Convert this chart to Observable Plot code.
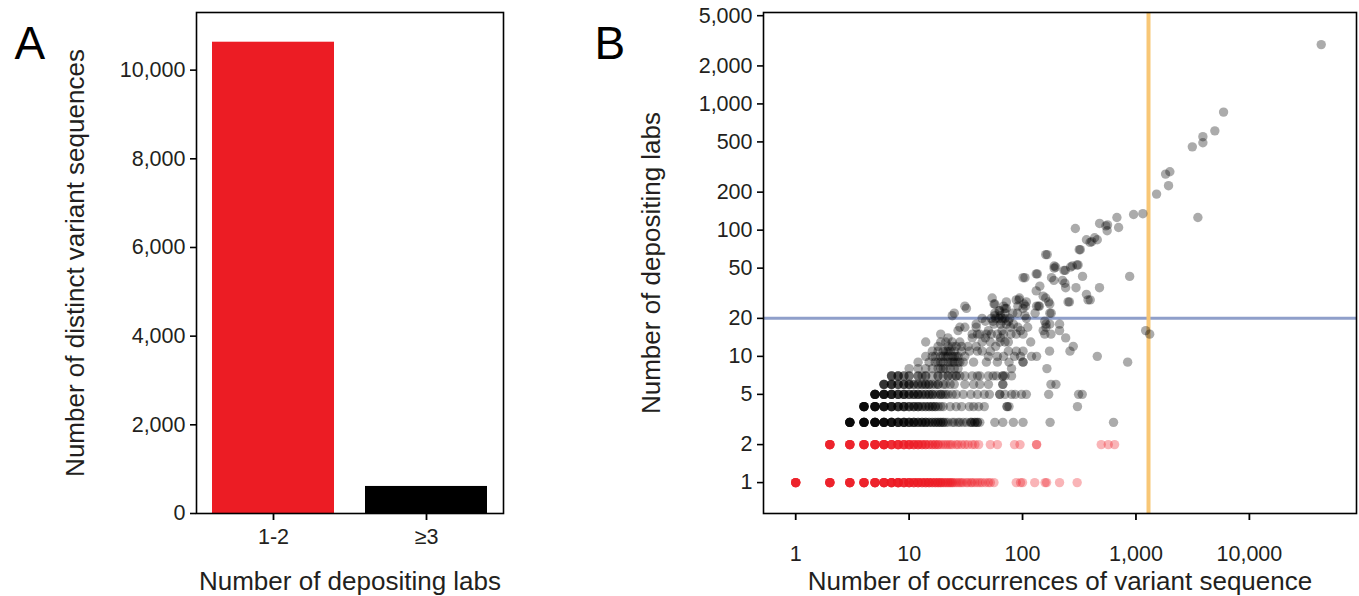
<!DOCTYPE html>
<html><head><meta charset="utf-8">
<script src="https://cdn.jsdelivr.net/npm/d3@7"></script>
<script src="https://cdn.jsdelivr.net/npm/@observablehq/plot@0.6"></script>
<style>
body{margin:0;background:#fff;}
#wrap{position:relative;width:1359px;height:596px;overflow:hidden;background:#fff;}
#a{position:absolute;left:0;top:0;}
#b{position:absolute;left:560px;top:0;}
</style></head><body>
<div id="wrap"><div id="a"></div><div id="b"></div></div>
<script>
// ---------- Panel A data ----------
const barCategories = ["1-2", "≥3"];
const barValues = [10630, 610];
const barColors = ["#ec1c24", "#000000"];
const yTicksA = [0, 2000, 4000, 6000, 8000, 10000];

// ---------- Panel B data ----------
const xTicksB = [1, 10, 100, 1000, 10000];
const yTicksB = [1, 2, 5, 10, 20, 50, 100, 200, 500, 1000, 2000, 5000];
const labThreshold = 20;
const occurrenceThreshold = 1290;

// rows at low lab counts: [occurrences, number of overlapping sequences]
const row1 = [[1,8],[2,8],[3,8],[4,8],[5,8],[6,8],[7,8],[8,8],[9,6],[10,6],[11,5],[12,5],[13,4],[14,4],[15,4],[16,3],[17,3],[18,3],[19,3],[20,2],[21,2],[22,2],[23,2],[24,2],[25,1],[26,1],[27,1],[28,1],[29,1],[30,1],[32,1],[33,1],[35,1],[36,1],[38,1],[40,1],[42,1],[44,1],[47,1],[50,1],[52,1],[56,1],[88,1],[96,1],[100,1],[128,1],[158,1],[163,1],[212,1],[303,1]];
const row2 = [[2,8],[3,8],[4,8],[5,8],[6,8],[7,6],[8,6],[9,5],[10,5],[11,4],[12,4],[13,3],[14,3],[15,2],[16,2],[17,2],[18,2],[19,1],[20,1],[21,1],[22,1],[23,1],[24,1],[26,1],[27,1],[29,1],[31,1],[33,1],[36,1],[38,1],[41,1],[52,1],[60,1],[85,1],[95,1],[133,2],[494,1],[570,1],[648,1]];
const row3 = [[3,8],[4,8],[5,8],[6,7],[7,6],[8,5],[9,5],[10,4],[11,4],[12,3],[13,3],[14,3],[15,2],[16,2],[17,2],[18,2],[19,2],[20,2],[21,1],[22,1],[24,1],[25,1],[27,1],[28,1],[30,1],[32,1],[35,2],[36,1],[38,2],[40,2],[42,1],[57,1],[67,1],[83,1],[101,1],[175,1],[634,1]];
const row4 = [[4,8],[5,7],[6,6],[7,5],[8,4],[9,4],[10,3],[11,3],[12,3],[13,2],[14,2],[15,2],[16,2],[17,2],[18,1],[19,1],[20,1],[23,1],[26,1],[29,1],[34,1],[37,1],[41,1],[46,1],[73,2],[76,1],[305,1]];
const row5 = [[5,7],[6,6],[7,5],[8,4],[9,4],[10,3],[11,3],[12,3],[13,2],[14,2],[15,2],[16,2],[17,1],[18,1],[19,2],[20,1],[21,1],[22,1],[24,1],[26,1],[30,1],[35,1],[40,1],[46,1],[51,1],[63,2],[70,1],[80,1],[86,1],[98,1],[108,1],[170,1],[312,1],[336,1]];
const row6 = [[6,4],[7,4],[8,3],[9,3],[10,3],[11,2],[12,2],[13,2],[14,2],[15,2],[16,1],[17,1],[18,2],[20,1],[21,1],[23,1],[25,1],[31,1],[37,1],[42,1],[50,1],[67,2],[178,1],[197,1]];
const row7 = [[7,3],[8,3],[9,2],[10,2],[12,2],[13,1],[14,2],[16,1],[18,2],[20,1],[22,2],[24,1],[26,2],[28,1],[31,1],[36,1],[40,1],[42,1],[50,1],[55,1],[59,1],[67,2],[70,1],[80,1]];
const lowRows = [[1,row1],[2,row2],[3,row3],[4,row4],[5,row5],[6,row6],[7,row7]];

// scattered sequences with 8+ labs: [occurrences, labs]
const scattered = [
 [10,8],[12,8],[14,8],[16,8],[18,8],[19,8],[20,8],[21,8],[23,8],[25,8],[27,8],[80,8],[164,8],
 [12,9],[15,9],[17,9],[18,9],[19,9],[20,9],[22,9],[23,9],[24,9],[25,9],[27,9],[28,9],[30,9],[37,9],[48,9],[60,9],[76,9],[101,9],[101,9],[845,9],
 [14,10],[16,10],[17,10],[19,10],[20,10],[21,10],[22,10],[24,10],[25,10],[26,10],[27,10],[31,10],[50,10],[60,10],[68,10],[85,10],[96,10],[120,10],[133,10],[456,10],
 [16,11],[18,11],[20,11],[21,11],[22,11],[23,11],[25,11],[29,11],[34,11],[40,11],[44,11],[52,11],[75,11],[88,11],[101,11],[173,11],[262,11],
 [18,12],[22,12],[24,12],[26,12],[29,12],[33,12],[39,12],[58,12],[280,12],
 [14,13],[19,13],[21,13],[24,13],[28,13],[44,13],[52,13],[63,13],[70,13],[75,13],[118,13],
 [22,14],[36,14],[47,14],[64,14],[240,14],
 [19,15],[36,15],[40,15],[42,15],[48,15],[53,15],[60,15],[68,15],[79,15],[88,15],[101,15],[157,15],[178,15],[1321,15],
 [27,16],[50,16],[66,16],[96,16],[152,16],[212,16],[1218,16],
 [28,17],[31,17],[39,17],[78,17],[91,17],[111,17],[161,17],
 [39,18],[56,18],[64,18],[72,18],[83,18],[161,18],[174,18],[212,18],
 [47,19],[55,19],[66,19],[75,19],[157,19],
 [44,20],[53,20],[58,20],[62,20],[66,20],[70,20],[77,20],[108,20],
 [24,21],[57,21],[64,21],[105,21],
 [25,22],[57,22],[70,22],[82,22],[90,22],[129,22],[174,22],[179,22],
 [62,23],[63,23],
 [32,24],[70,24],[72,24],[101,24],
 [31,25],[68,25],[91,25],[106,25],[133,25],[138,25],[141,25],
 [56,26],[57,26],[103,26],[174,26],
 [72,27],[108,27],[170,27],[252,27],[259,27],
 [88,28],[93,28],[378,28],[395,28],
 [54,29],[94,29],[160,29],
 [152,30],[366,31],[132,33],
 [240,35],[296,35],[477,35],[142,36],[236,38],
 [189,40],[225,40],[101,42],[105,42],[180,42],[338,43],[880,43],
 [132,45],[135,45],[232,48],[238,48],[190,50],[196,51],[265,51],[190,52],[275,52],[302,53],[309,53],
 [160,64],[165,64],[316,70],[323,70],
 [394,80],[408,81],[366,84],[456,84],[432,87],
 [557,99],[292,103],[703,105],[543,108],[562,110],[478,113],
 [679,126],[3515,126],[953,133],[1150,135],[1520,193],[1937,225],[1824,278],[1990,290],
 [3140,457],[3890,492],[3890,550],[4960,612],[5920,861],[43000,2950]
];

const FONT = "'Liberation Sans', Arial, Helvetica, sans-serif";
const INK = "#231f20";
const RED = "#ec1c24";
const TICKFONT = 21.5;
const fmt = d3.format(",");

// ---------- Panel A ----------
const barData = barCategories.map((c, i) => ({cat: c, value: barValues[i]}));
const plotA = Plot.plot({
  width: 560, height: 596,
  marginLeft: 196, marginRight: 57, marginTop: 12, marginBottom: 83,
  style: {fontFamily: FONT, color: INK, background: "transparent", overflow: "visible"},
  x: {type: "band", domain: barCategories, paddingInner: 0.2, paddingOuter: 0.1},
  y: {domain: [0, 11300]},
  color: {domain: barCategories, range: barColors},
  marks: [
    Plot.barY(barData, {x: "cat", y: "value", fill: "cat"}),
    Plot.frame({stroke: "#000", strokeWidth: 1.6}),
    Plot.axisY({ticks: yTicksA, tickFormat: fmt, tickSize: 6, tickPadding: 5, fontSize: TICKFONT, label: null, stroke: "#000", strokeWidth: 1.6}),
    Plot.axisX({tickSize: 7, tickPadding: 8, fontSize: TICKFONT, label: null, stroke: "#000", strokeWidth: 1.8}),
    Plot.text(["Number of depositing labs"], {text: d => d, frameAnchor: "bottom", dy: 68, fontSize: 26, lineAnchor: "middle", textAnchor: "middle"}),
    Plot.text(["Number of distinct variant sequences"], {text: d => d, frameAnchor: "left", dx: -121, rotate: -90, fontSize: 26, lineAnchor: "middle", textAnchor: "middle"}),
    Plot.text(["A"], {text: d => d, frameAnchor: "top-left", textAnchor: "start", dx: -182, dy: 46, fontSize: 46, lineAnchor: "bottom", fill: "#000"})
  ]
});
document.getElementById("a").appendChild(plotA);

// ---------- Panel B ----------
const points = lowRows.flatMap(([y, row]) => row.flatMap(([x, n]) => Array.from({length: n}, () => ({x, y}))))
  .concat(scattered.map(([x, y]) => ({x, y})));

const plotB = Plot.plot({
  width: 799, height: 596,
  marginLeft: 203, marginRight: 3, marginTop: 12, marginBottom: 83,
  style: {fontFamily: FONT, color: INK, background: "transparent", overflow: "visible"},
  x: {type: "log", domain: [0.52, 88000]},
  y: {type: "log", domain: [0.569, 5300]},
  color: {type: "identity"},
  marks: [
    Plot.ruleY([labThreshold], {stroke: "#8f9fca", strokeWidth: 3}),
    Plot.ruleX([occurrenceThreshold], {stroke: "#f8c776", strokeWidth: 4}),
    Plot.dot(points, {x: "x", y: "y", r: 4.7, fill: d => d.y <= 2 ? RED : "#000000", fillOpacity: 0.33}),
    Plot.frame({stroke: "#000", strokeWidth: 1.6}),
    Plot.axisX({ticks: xTicksB, tickFormat: fmt, tickSize: 7, tickPadding: 25, fontSize: TICKFONT, label: null, stroke: "#000", strokeWidth: 1.8}),
    Plot.axisY({ticks: yTicksB, tickFormat: () => "", tickSize: 6, label: null, stroke: "#000", strokeWidth: 1.6}),
    Plot.text(yTicksB, {y: d => d, text: d => fmt(d), frameAnchor: "left", dx: -11, textAnchor: "end", lineAnchor: "middle", fontSize: TICKFONT}),
    Plot.text(["Number of occurrences of variant sequence"], {text: d => d, frameAnchor: "bottom", dy: 68, fontSize: 26, lineAnchor: "middle", textAnchor: "middle"}),
    Plot.text(["Number of depositing labs"], {text: d => d, frameAnchor: "left", dx: -112, rotate: -90, fontSize: 26, lineAnchor: "middle", textAnchor: "middle"}),
    Plot.text(["B"], {text: d => d, frameAnchor: "top-left", textAnchor: "start", dx: -169, dy: 46, fontSize: 46, lineAnchor: "bottom", fill: "#000"})
  ]
});
document.getElementById("b").appendChild(plotB);
</script></body></html>
